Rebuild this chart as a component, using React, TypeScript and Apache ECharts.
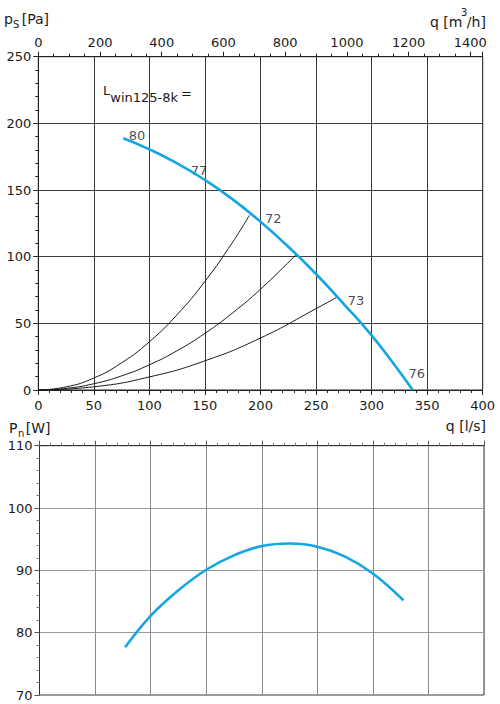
import React, { useEffect, useRef } from "react";
import * as echarts from "echarts";

// Fan curve (static pressure vs air flow)
const fanQ = [76.5, 100, 125, 150, 175, 200, 225, 250, 275, 300, 320, 337];
const fanP = [188.8, 180.5, 170, 157.5, 143, 126.2, 107.5, 87, 64.5, 41, 19.5, 0];

// System curves
const sys1Q = [0, 25, 50, 75, 100, 125, 150, 175, 190];
const sys1P = [0, 2.3, 9, 20.4, 36.2, 56.6, 81.5, 111, 131];
const sys2Q = [0, 25, 50, 75, 100, 125, 150, 175, 200, 232];
const sys2P = [0, 1.2, 4.7, 10.6, 18.9, 29.5, 42.5, 57.9, 75.6, 101.5];
const sys3Q = [0, 50, 100, 150, 200, 250, 269.5];
const sys3P = [0, 2.4, 9.8, 21.9, 39, 61, 70];

// Power consumption
const powQ = [77, 100, 125, 150, 175, 200, 225, 250, 275, 300, 327.5];
const powW = [77.65, 82.7, 86.8, 90.1, 92.4, 93.9, 94.3, 93.8, 92.2, 89.5, 85.2];

// Sound power labels L_win125-8k
const lwinLabels = ["80", "77", "72", "73", "76"];

// Axis ranges / ticks
const qLsMax = 400;
const qLsStep = 50;
const qM3hMax = 1440;
const qM3hStep = 200;
const psMax = 250;
const psStep = 50;
const pnMin = 70;
const pnMax = 110;
const pnStep = 10;

const FONT = "DejaVu Sans";
const TXT = "#1a1a1a";
const BLUE = "#14a5e3";

function zip(a: number[], b: number[]) {
  return a.map((v, i) => [v, b[i]]);
}

let measureCtx: CanvasRenderingContext2D | null = null;
function measure(t: string, size: number) {
  if (!measureCtx) measureCtx = document.createElement("canvas").getContext("2d");
  if (!measureCtx) return t.length * size * 0.6;
  measureCtx.font = `${size}px "${FONT}"`;
  return measureCtx.measureText(t).width;
}

type Piece = { t: string; size: number; y: number; gap?: number };

function seq(x0: number, pieces: Piece[]) {
  const out: any[] = [];
  let x = x0;
  for (const p of pieces) {
    x += p.gap || 0;
    out.push({
      type: "text",
      x,
      y: p.y,
      silent: true,
      style: {
        text: p.t,
        fontFamily: FONT,
        fontSize: p.size,
        fill: TXT,
        align: "left",
        verticalAlign: "middle",
      },
    });
    x += measure(p.t, p.size);
  }
  return out;
}

export default function App() {
  const ref = useRef<HTMLDivElement>(null);
  useEffect(() => {
    document.body.style.margin = "0";
    if (!ref.current) return;
    const chart = echarts.init(ref.current, undefined, { renderer: "svg" });

    const labelAnchors = [
      { v: [fanQ[0], fanP[0]], pos: "right", off: [0, -3] },
      { v: [fanQ[3], fanP[3]], pos: "top", off: [-6, 2] },
      { v: [sys1Q[sys1Q.length - 1], sys1P[sys1P.length - 1]], pos: "right", off: [10, 3] },
      { v: [sys3Q[sys3Q.length - 1], sys3P[sys3P.length - 1]], pos: "right", off: [4.5, 4] },
      { v: [fanQ[fanQ.length - 1], fanP[fanP.length - 1]], pos: "top", off: [4, -4.5] },
    ];

    const axisLabelStyle = { fontFamily: FONT, fontSize: 13, color: TXT };
    const dark = "#222";
    const plain = (v: number) => String(v);

    const option: any = {
      animation: false,
      textStyle: { fontFamily: FONT },
      grid: [
        { left: 38.3, top: 56.7, width: 444.4, height: 333.3, show: true, borderColor: dark, borderWidth: 1 },
        { left: 39.5, top: 445.7, width: 444.5, height: 249.3, show: true, borderColor: "#333", borderWidth: 1 },
      ],
      xAxis: [
        {
          type: "value",
          gridIndex: 0,
          position: "bottom",
          min: 0,
          max: qLsMax,
          interval: qLsStep,
          axisLine: { lineStyle: { color: dark } },
          axisTick: { show: true, length: 5, lineStyle: { color: dark } },
          minorTick: { show: true, splitNumber: 5, length: 3, lineStyle: { color: dark } },
          splitLine: { show: true, lineStyle: { color: "#3a3a3a", width: 1 } },
          axisLabel: { ...axisLabelStyle, margin: 9, formatter: plain },
        },
        {
          type: "value",
          gridIndex: 0,
          position: "top",
          min: 0,
          max: qM3hMax,
          interval: qM3hStep,
          axisLine: { lineStyle: { color: dark } },
          axisTick: { show: true, length: 5, lineStyle: { color: dark } },
          minorTick: { show: true, splitNumber: 4, length: 3, lineStyle: { color: dark } },
          splitLine: { show: false },
          axisLabel: { ...axisLabelStyle, margin: 8, showMaxLabel: false, formatter: plain },
        },
        {
          type: "value",
          gridIndex: 1,
          position: "top",
          min: 0,
          max: qLsMax,
          interval: qLsStep,
          axisLine: { lineStyle: { color: "#333" } },
          axisTick: { show: true, length: 5, lineStyle: { color: "#555" } },
          minorTick: { show: true, splitNumber: 5, length: 3, lineStyle: { color: "#777" } },
          splitLine: { show: true, lineStyle: { color: "#8a8a8a", width: 1 } },
          axisLabel: { show: false },
        },
      ],
      yAxis: [
        {
          type: "value",
          gridIndex: 0,
          min: 0,
          max: psMax,
          interval: psStep,
          axisLine: { show: true, lineStyle: { color: dark } },
          axisTick: { show: true, length: 5, lineStyle: { color: dark } },
          minorTick: { show: true, splitNumber: 5, length: 3, lineStyle: { color: dark } },
          splitLine: { show: true, lineStyle: { color: "#3a3a3a", width: 1 } },
          axisLabel: { ...axisLabelStyle, margin: 7, formatter: plain },
        },
        {
          type: "value",
          gridIndex: 1,
          min: pnMin,
          max: pnMax,
          interval: pnStep,
          axisLine: { show: true, lineStyle: { color: "#333" } },
          axisTick: { show: true, length: 5, lineStyle: { color: "#555" } },
          minorTick: { show: true, splitNumber: 5, length: 3, lineStyle: { color: "#777" } },
          splitLine: { show: true, lineStyle: { color: "#9a9a9a", width: 1 } },
          axisLabel: { ...axisLabelStyle, margin: 7, formatter: plain },
        },
      ],
      series: [
        {
          type: "line",
          xAxisIndex: 0,
          yAxisIndex: 0,
          data: zip(sys1Q, sys1P),
          smooth: true,
          showSymbol: false,
          silent: true,
          lineStyle: { color: "#1a1a1a", width: 1 },
        },
        {
          type: "line",
          xAxisIndex: 0,
          yAxisIndex: 0,
          data: zip(sys2Q, sys2P),
          smooth: true,
          showSymbol: false,
          silent: true,
          lineStyle: { color: "#1a1a1a", width: 1 },
        },
        {
          type: "line",
          xAxisIndex: 0,
          yAxisIndex: 0,
          data: zip(sys3Q, sys3P),
          smooth: true,
          showSymbol: false,
          silent: true,
          lineStyle: { color: "#1a1a1a", width: 1 },
        },
        {
          type: "line",
          xAxisIndex: 0,
          yAxisIndex: 0,
          data: zip(fanQ, fanP),
          smooth: true,
          showSymbol: false,
          silent: true,
          lineStyle: { color: BLUE, width: 2.6 },
        },
        {
          type: "scatter",
          xAxisIndex: 0,
          yAxisIndex: 0,
          symbolSize: 1,
          silent: true,
          itemStyle: { color: "transparent" },
          data: labelAnchors.map((a, i) => ({
            value: a.v,
            label: {
              show: true,
              formatter: lwinLabels[i],
              position: a.pos,
              distance: 5,
              offset: a.off,
              fontFamily: FONT,
              fontSize: 13,
              color: TXT,
            },
          })),
        },
        {
          type: "line",
          xAxisIndex: 2,
          yAxisIndex: 1,
          data: zip(powQ, powW),
          smooth: 0.4,
          showSymbol: false,
          silent: true,
          lineStyle: { color: BLUE, width: 2.6 },
        },
      ],
      graphic: [
        ...seq(4, [
          { t: "p", size: 14, y: 19 },
          { t: "S", size: 10, y: 24.5 },
          { t: "[Pa]", size: 14, y: 19, gap: 2.5 },
        ]),
        ...seq(430, [
          { t: "q [m", size: 14, y: 22 },
          { t: "3", size: 10, y: 12.5, gap: -1.5 },
          { t: "/h]", size: 14, y: 22, gap: -0.5 },
        ]),
        {
          type: "text",
          x: 486,
          y: 425.5,
          silent: true,
          style: {
            text: "q [l/s]",
            fontFamily: FONT,
            fontSize: 14,
            fill: TXT,
            align: "right",
            verticalAlign: "middle",
          },
        },
        ...seq(9, [
          { t: "P", size: 14, y: 427.5 },
          { t: "n", size: 10, y: 433.5, gap: 0.5 },
          { t: "[W]", size: 14, y: 427.5, gap: 1.5 },
        ]),
        ...seq(103, [
          { t: "L", size: 13, y: 90.5 },
          { t: "win125-8k", size: 13, y: 97.5 },
          { t: "=", size: 13, y: 93, gap: 3 },
        ]),
      ],
    };

    chart.setOption(option);
    return () => chart.dispose();
  }, []);

  return <div ref={ref} style={{ width: 500, height: 704 }} />;
}
